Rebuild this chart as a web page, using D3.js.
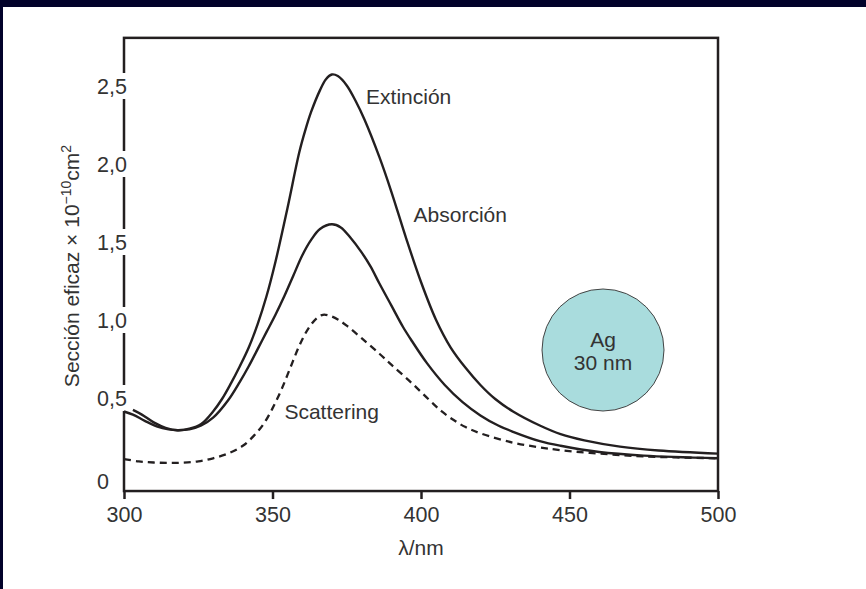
<!DOCTYPE html>
<html>
<head>
<meta charset="utf-8">
<script src="https://cdn.jsdelivr.net/npm/d3@7"></script>
<style>
  html, body { margin: 0; padding: 0; background: #fff; }
  svg { display: block; }
  text { font-family: "Liberation Sans", Arial, sans-serif; fill: #333; }
</style>
</head>
<body>
<div id="chart"></div>
<script>
// data (wavelength nm, cross section x 1e-10 cm2)
const extinction = [
  [303, 0.43], [306, 0.40], [310, 0.35], [314, 0.315], [318, 0.30], [322, 0.31],
  [326, 0.34], [330, 0.42], [333, 0.50], [336, 0.60], [339, 0.71], [342, 0.83],
  [345, 0.98], [348, 1.16], [351, 1.38], [355, 1.72], [359, 2.08], [361, 2.22],
  [363, 2.34], [366, 2.48], [368, 2.55], [370, 2.58], [372, 2.57], [375, 2.51],
  [378, 2.41], [381, 2.29], [386, 2.05], [390, 1.83], [395, 1.53], [400, 1.25],
  [405, 1.01], [410, 0.83], [415, 0.70], [420, 0.59], [425, 0.50], [431, 0.42],
  [440, 0.33], [447, 0.275], [455, 0.235], [467, 0.195], [480, 0.17], [500, 0.15]
];
const absorption = [
  [300, 0.42], [303, 0.40], [307, 0.36], [311, 0.325], [315, 0.305], [318, 0.30],
  [322, 0.305], [326, 0.33], [330, 0.38], [335, 0.49], [339, 0.61], [342, 0.71],
  [345, 0.82], [348, 0.93], [351, 1.04], [354, 1.16], [357, 1.29], [360, 1.42],
  [363, 1.52], [366, 1.59], [370, 1.62], [373, 1.60], [376, 1.54], [380, 1.44],
  [383, 1.35], [386, 1.24], [390, 1.10], [394, 0.96], [397, 0.87], [402, 0.73],
  [408, 0.59], [414, 0.48], [420, 0.395], [426, 0.33], [431, 0.29], [440, 0.23],
  [447, 0.20], [460, 0.16], [475, 0.137], [500, 0.12]
];
const scattering = [
  [300, 0.115], [305, 0.10], [310, 0.093], [315, 0.09], [320, 0.092], [325, 0.10],
  [330, 0.12], [335, 0.15], [340, 0.20], [344, 0.27], [347, 0.34], [350, 0.44],
  [353, 0.56], [356, 0.70], [359, 0.84], [362, 0.95], [365, 1.02], [367, 1.04],
  [369, 1.035], [372, 1.01], [375, 0.97], [380, 0.89], [386, 0.79], [390, 0.72],
  [397, 0.60], [403, 0.49], [407, 0.42], [411, 0.365], [415, 0.32], [420, 0.28],
  [431, 0.22], [440, 0.19], [447, 0.172], [460, 0.15], [475, 0.132], [500, 0.12]
];
const xTicks = [300, 350, 400, 450, 500];
const yTicks = [0, 0.5, 1.0, 1.5, 2.0, 2.5];
const yTickLabels = ["0", "0,5", "1,0", "1,5", "2,0", "2,5"];
const curveLabels = [
  { text: "Extinción", nm: 381.5, v: 2.44 },
  { text: "Absorción", nm: 397.5, v: 1.68 },
  { text: "Scattering", nm: 354, v: 0.42 }
];

const width = 866, height = 589;
const svg = d3.select("#chart").append("svg")
  .attr("width", width)
  .attr("height", height);

// dark slide border
svg.append("rect").attr("x", 0).attr("y", 0).attr("width", width).attr("height", 7).attr("fill", "#02022a");
svg.append("rect").attr("x", 0).attr("y", 0).attr("width", 3).attr("height", height).attr("fill", "#02022a");

const x = d3.scaleLinear().domain([300, 500]).range([124, 718]);
const y = d3.scaleLinear().domain([0, 2.5]).range([477, 87]);
const boxTop = y(2.815), boxBottom = y(-0.09);

// frame
svg.append("rect")
  .attr("x", x(300)).attr("y", boxTop)
  .attr("width", x(500) - x(300)).attr("height", boxBottom - boxTop)
  .attr("fill", "none").attr("stroke", "#231f20").attr("stroke-width", 2.5);

// x axis ticks + labels
const xAxis = svg.append("g").attr("transform", `translate(0,${boxBottom})`)
  .call(d3.axisBottom(x).tickValues(xTicks).tickSize(8).tickPadding(8));
xAxis.select(".domain").remove();
xAxis.selectAll(".tick line").attr("stroke", "#231f20").attr("stroke-width", 2.5);
xAxis.selectAll(".tick text").attr("font-size", 21.5).attr("fill", "#333")
  .attr("font-family", "Liberation Sans, Arial, sans-serif");

// y labels are left aligned and knock out the axis line where they overlap
const yLab = svg.append("g").selectAll("g")
  .data(yTicks)
  .enter().append("g")
  .attr("transform", d => `translate(97,${y(d) + (d === 0 ? 4 : -1)})`);
yLab.append("text")
  .attr("dy", "0.35em")
  .attr("font-size", 21.5)
  .text((d, i) => yTickLabels[i]);
yLab.each(function() {
  const g = d3.select(this);
  const b = g.select("text").node().getBBox();
  g.insert("rect", "text")
    .attr("x", b.x - 2).attr("y", -13)
    .attr("width", b.width + 4).attr("height", 26)
    .attr("fill", "#fff");
});

const line = d3.line()
  .x(d => x(d[0]))
  .y(d => y(d[1]))
  .curve(d3.curveCatmullRom.alpha(0.5));

svg.append("path").datum(scattering)
  .attr("d", line).attr("fill", "none").attr("stroke", "#231f20")
  .attr("stroke-width", 2.3).attr("stroke-dasharray", "7,5");
svg.append("path").datum(absorption)
  .attr("d", line).attr("fill", "none").attr("stroke", "#231f20").attr("stroke-width", 2.4);
svg.append("path").datum(extinction)
  .attr("d", line).attr("fill", "none").attr("stroke", "#231f20").attr("stroke-width", 2.4);

svg.selectAll("text.curve-label")
  .data(curveLabels)
  .enter().append("text")
  .attr("class", "curve-label")
  .attr("x", d => x(d.nm))
  .attr("y", d => y(d.v))
  .attr("dy", "0.35em")
  .attr("font-size", 21)
  .text(d => d.text);

// Ag particle
const particle = svg.append("g").attr("transform", "translate(603,350)");
particle.append("circle").attr("r", 61)
  .attr("fill", "#a9dcdd").attr("stroke", "#444").attr("stroke-width", 1);
particle.append("text").attr("text-anchor", "middle").attr("y", -3).attr("font-size", 21).text("Ag");
particle.append("text").attr("text-anchor", "middle").attr("y", 20).attr("font-size", 21).text("30 nm");

// axis titles
svg.append("text")
  .attr("x", x(400)).attr("y", 555)
  .attr("text-anchor", "middle").attr("font-size", 21)
  .text("λ/nm");

const yTitle = svg.append("text")
  .attr("transform", "translate(79,266) rotate(-90)")
  .attr("text-anchor", "middle").attr("font-size", 21);
yTitle.append("tspan").text("Sección eficaz × 10");
yTitle.append("tspan").attr("font-size", 14).attr("dy", -8).text("−10");
yTitle.append("tspan").attr("dy", 8).text("cm");
yTitle.append("tspan").attr("font-size", 14).attr("dy", -8).text("2");
</script>
</body>
</html>
